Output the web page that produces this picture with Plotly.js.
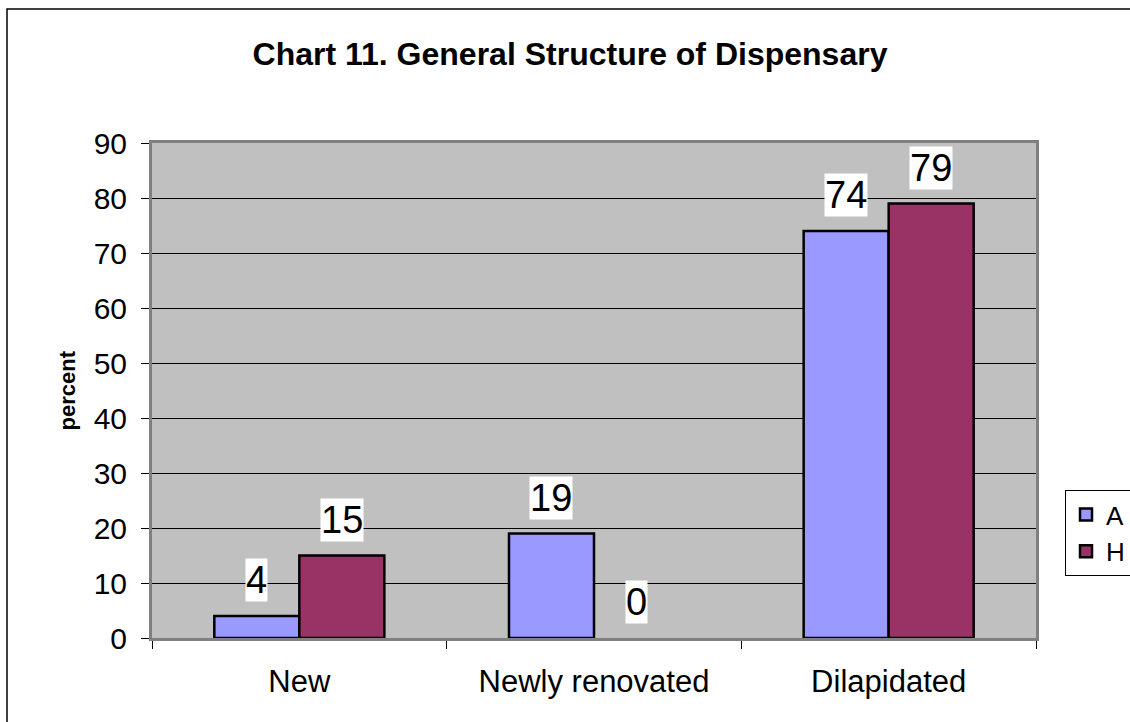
<!DOCTYPE html>
<html>
<head>
<meta charset="utf-8">
<script src="https://cdn.plot.ly/plotly-3.0.1.min.js"></script>
<style>html,body{margin:0;padding:0;background:#fff;}#chart{width:1130px;height:722px;}</style>
</head>
<body>
<div id="chart"></div>
<script>
const categories = ["New", "Newly renovated", "Dilapidated"];
const seriesNames = ["A", "H"];
const valuesA = [4, 19, 74];
const valuesH = [15, 0, 79];
const yTicks = [0, 10, 20, 30, 40, 50, 60, 70, 80, 90];

const W = 1130, H = 722;
const M = {l: 152, r: 94, t: 143, b: 84, autoexpand: false};
const plotW = W - M.l - M.r;
const plotH = H - M.t - M.b;
const bargap = 0.423;
const barPx = plotW / categories.length * (1 - bargap) / 2;

const colors = ["#9999FF", "#993366"];
const allValues = [valuesA, valuesH];

const traces = allValues.map((vals, i) => ({
  type: "bar",
  name: seriesNames[i],
  x: categories,
  y: vals,
  marker: {color: colors[i], line: {color: "#000", width: vals.map(v => v === 0 ? 0 : 2.5)}},
  hoverinfo: "none"
}));

const annotations = [];
allValues.forEach((vals, i) => {
  vals.forEach((v, j) => {
    annotations.push({
      x: categories[j], y: v, xref: "x", yref: "y",
      text: String(v), showarrow: false,
      xshift: (i === 0 ? -1 : 1) * barPx / 2,
      yanchor: "bottom", yshift: 14,
      bgcolor: "#fff", borderpad: 0,
      font: {family: "Liberation Sans, Arial, sans-serif", size: 38, color: "#000"}
    });
  });
});
annotations.push({
  xref: "paper", yref: "paper", x: (67 - M.l) / plotW, y: 0.5,
  text: "<b>percent</b>", textangle: -90, showarrow: false,
  xanchor: "center", yanchor: "middle",
  font: {family: "Liberation Sans, Arial, sans-serif", size: 22, color: "#000"}
});

const layout = {
  width: W, height: H,
  margin: M,
  paper_bgcolor: "#fff",
  plot_bgcolor: "#C0C0C0",
  font: {family: "Liberation Sans, Arial, sans-serif", color: "#000"},
  title: {
    text: "<b>Chart 11. General Structure of Dispensary</b>",
    x: 570 / W, xanchor: "center",
    y: 1 - 54 / H, yanchor: "middle",
    xref: "container", yref: "container",
    font: {size: 32, color: "#000"}
  },
  barmode: "group",
  bargap: bargap,
  bargroupgap: 0,
  xaxis: {
    type: "category",
    showgrid: false,
    showline: true, linecolor: "#808080", linewidth: 3, mirror: true,
    ticks: "outside", tickson: "boundaries", ticklen: 8, tickcolor: "#000", tickwidth: 1,
    ticklabelstandoff: 14,
    tickfont: {size: 31, color: "#000"},
    fixedrange: true
  },
  yaxis: {
    range: [0, 90],
    tickvals: yTicks,
    showgrid: true, gridcolor: "#000", gridwidth: 1,
    zeroline: false,
    showline: true, linecolor: "#808080", linewidth: 3, mirror: true,
    ticks: "outside", ticklen: 8, tickcolor: "#000", tickwidth: 1,
    ticklabelstandoff: 8,
    tickfont: {size: 30, color: "#000"},
    fixedrange: true
  },
  showlegend: true,
  legend: {
    x: (1065 - M.l) / plotW, xanchor: "left",
    y: (H - M.b - 490) / plotH, yanchor: "top",
    bgcolor: "#fff", bordercolor: "#000", borderwidth: 1,
    font: {size: 26, color: "#000"},
    itemwidth: 30, tracegroupgap: 4
  },
  annotations: annotations,
  shapes: [{
    type: "rect", xref: "paper", yref: "paper",
    x0: (7 - M.l) / plotW, x1: (1140 - M.l) / plotW,
    y0: -(740 - (H - M.b)) / plotH, y1: (H - M.b - 9) / plotH,
    line: {color: "#000", width: 1.5}, fillcolor: "rgba(0,0,0,0)", layer: "below"
  }]
};

Plotly.newPlot("chart", traces, layout, {displayModeBar: false, staticPlot: true});
</script>
</body>
</html>
